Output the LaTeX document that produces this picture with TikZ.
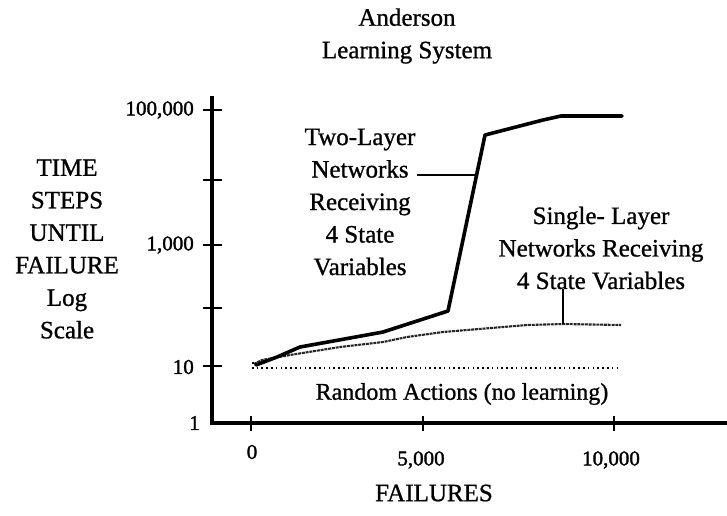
\documentclass[tikz,border=0pt]{standalone}
\usepackage{fontspec}
\setmainfont{Liberation Serif}[FakeBold=0.9]
\newfontfamily\numfont{Liberation Serif}[FakeBold=1.6]
\begin{document}
\begin{tikzpicture}[x=1pt,y=-1pt,
  lbl/.style={font=\fontsize{25}{32.5}\selectfont, align=center, inner sep=0pt},
  num/.style={font=\numfont\fontsize{21}{24}\selectfont, inner sep=0pt},
  axisline/.style={line width=3.2pt},
  tickmark/.style={line width=2.6pt},
  twolayer/.style={line width=3.6pt, line join=round, line cap=round},
  onelayer/.style={line width=2.1pt, black!85, dash pattern=on 3pt off 0.8pt, line join=round},
  randomline/.style={line width=1.8pt, dash pattern=on 1.6pt off 3.2pt},
  lead/.style={line width=2.6pt}]
\useasboundingbox (0,0) rectangle (727,515);

% title
\node[lbl] (title) at (407,36) {Anderson\\Learning System};

% axes
\coordinate (ytop) at (212,96);
\coordinate (origin) at (212,423);
\coordinate (xend) at (727,423);
\draw[axisline] (ytop) -- (origin) -- (xend);
\foreach \y in {110,180,245,308,366} \draw[tickmark] (203,\y) -- (222,\y);
\foreach \x in {251,423,614} \draw[tickmark] (\x,416) -- (\x,431);

% axis labels
\node[num, anchor=east] (y5) at (194,110) {100,000};
\node[num, anchor=east] (y3) at (194,245) {1,000};
\node[num, anchor=east] (y1) at (194,367) {10};
\node[num, anchor=east] (y0) at (200,423) {1};
\node[num] (x0) at (252,452) {0};
\node[num] (x5) at (421,460) {5,000};
\node[num] (x10) at (611,460) {10,000};
\node[lbl] (ylab) at (67,249) {TIME\\STEPS\\UNTIL\\FAILURE\\Log\\Scale};
\node[lbl] (xlab) at (434,493) {FAILURES};

% random actions baseline
\draw[randomline] (253,362) -- (253,368) -- (621,368);
\node[lbl, font=\fontsize{24}{30}\selectfont] (rand) at (462,394) {Random Actions (no learning)};

% single-layer curve
\draw[onelayer] (254,364) -- (262,360) -- (290,355) -- (340,347) -- (383,342)
  -- (407,337) -- (443,332) -- (491,328) -- (527,325) -- (563,324) -- (621,325);

% two-layer curve
\draw[twolayer] (256,365) -- (277,357) -- (300,347) -- (350,338) -- (383,332)
  -- (448,311) -- (485,135) -- (543,120) -- (561,116) -- (622,116);

% curve labels and leaders
\node[lbl] (twolab) at (360,202) {Two-Layer\\Networks\\Receiving\\4 State\\Variables};
\coordinate (twolead) at (417,175);
\coordinate (twohit) at (475,175);
\draw[lead] (twolead) -- (twohit);

\node[lbl] (onelab) at (601,248) {Single- Layer\\Networks Receiving\\4 State Variables};
\coordinate (onelead) at (563,289);
\coordinate (onehit) at (563,324);
\draw[lead] (onelead) -- (onehit);
\end{tikzpicture}
\end{document}
